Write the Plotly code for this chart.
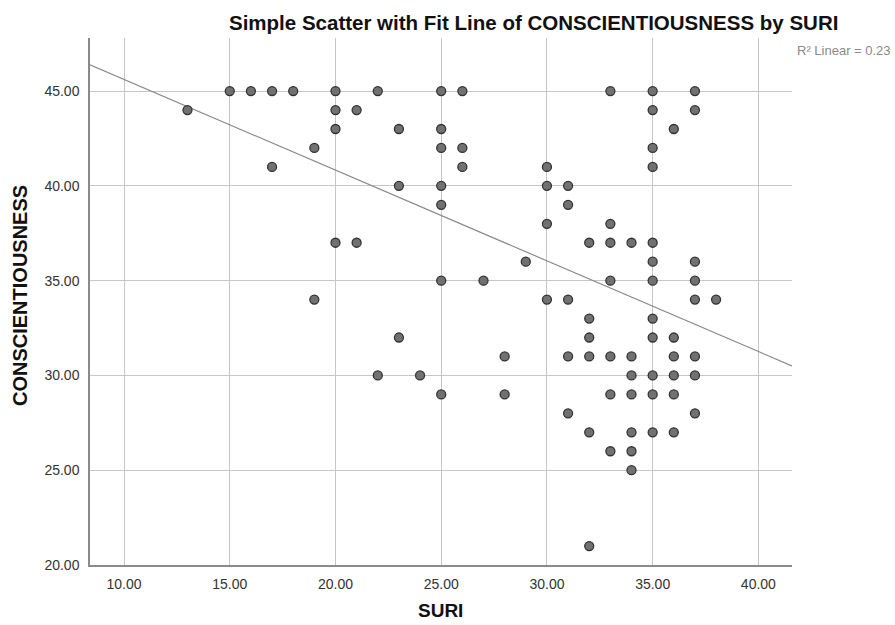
import plotly.graph_objects as go

# Data (SURI, CONSCIENTIOUSNESS)
suri = [15, 16, 17, 18, 20, 22, 25, 26, 33, 35, 37,
        13, 20, 21, 35, 37,
        20, 23, 25, 36,
        19, 25, 26, 35,
        17, 26, 30, 35,
        23, 25, 30, 31,
        25, 31,
        30, 33,
        20, 21, 32, 33, 34, 35,
        29, 35, 37,
        25, 27, 33, 35, 37,
        19, 30, 31, 37, 38,
        32, 35,
        23, 32, 35, 36,
        28, 31, 32, 33, 34, 36, 37,
        22, 24, 34, 35, 36, 37,
        25, 28, 33, 34, 35, 36,
        31, 37,
        32, 34, 35, 36,
        33, 34,
        34,
        32]
consc = [45]*11 + [44]*5 + [43]*4 + [42]*4 + [41]*4 + [40]*4 + [39]*2 + [38]*2 + \
        [37]*6 + [36]*3 + [35]*5 + [34]*5 + [33]*2 + [32]*4 + [31]*7 + [30]*6 + \
        [29]*6 + [28]*2 + [27]*4 + [26]*2 + [25]*1 + [21]*1

# Fit line
fit_intercept = 50.4
fit_slope = -0.4785
r2_text = "R² Linear = 0.23"

x_range = [8.39, 41.59]
y_range = [20, 47.8]

x_ticks = [10, 15, 20, 25, 30, 35, 40]
y_ticks = [20, 25, 30, 35, 40, 45]

font_family = "Arial, Liberation Sans, sans-serif"

fig = go.Figure()
fig.add_trace(go.Scatter(
    x=x_range, y=[fit_intercept + fit_slope * v for v in x_range],
    mode="lines", line=dict(color="#8c8c8c", width=1.2),
    hoverinfo="skip", showlegend=False))
fig.add_trace(go.Scatter(
    x=suri, y=consc, mode="markers",
    marker=dict(size=9, color="#717171", line=dict(color="#333333", width=1.3)),
    showlegend=False))

axis_common = dict(
    showgrid=True, gridcolor="#c6c6c6", gridwidth=1,
    zeroline=False, showline=True, linecolor="#8a8a8a", linewidth=1.5,
    ticks="", tickformat=".2f",
    tickfont=dict(family=font_family, size=14, color="#333333"),
)

fig.update_xaxes(range=x_range, tickvals=x_ticks, ticklabelstandoff=5, **axis_common)
fig.update_yaxes(range=y_range, tickvals=y_ticks, ticklabelstandoff=6, **axis_common)

fig.update_layout(
    width=895, height=625,
    margin=dict(l=90, r=103, t=38, b=60),
    plot_bgcolor="white", paper_bgcolor="white",
    font=dict(family=font_family),
    annotations=[
        dict(text="<b>Simple Scatter with Fit Line of CONSCIENTIOUSNESS by SURI</b>",
             xref="paper", yref="paper", x=(533 - 90) / 702, y=1 + (38 - 23) / 527,
             xanchor="center", yanchor="middle", showarrow=False,
             font=dict(size=20.5, color="#111111", family=font_family)),
        dict(text=r2_text, xref="paper", yref="paper",
             x=(893 - 90) / 702, y=1 - (50 - 38) / 527,
             xanchor="right", yanchor="middle", showarrow=False,
             font=dict(size=13, color="#8a8a8a", family=font_family)),
        dict(text="<b>CONSCIENTIOUSNESS</b>", xref="paper", yref="paper",
             x=-(90 - 20) / 702, y=(565 - 296) / 527, textangle=-90,
             xanchor="center", yanchor="middle", showarrow=False,
             font=dict(size=20, color="#111111", family=font_family)),
        dict(text="<b>SURI</b>", xref="paper", yref="paper",
             x=(440 - 90) / 702, y=-(610 - 565) / 527,
             xanchor="center", yanchor="middle", showarrow=False,
             font=dict(size=19, color="#111111", family=font_family)),
    ],
)

fig.write_html("out.html")
